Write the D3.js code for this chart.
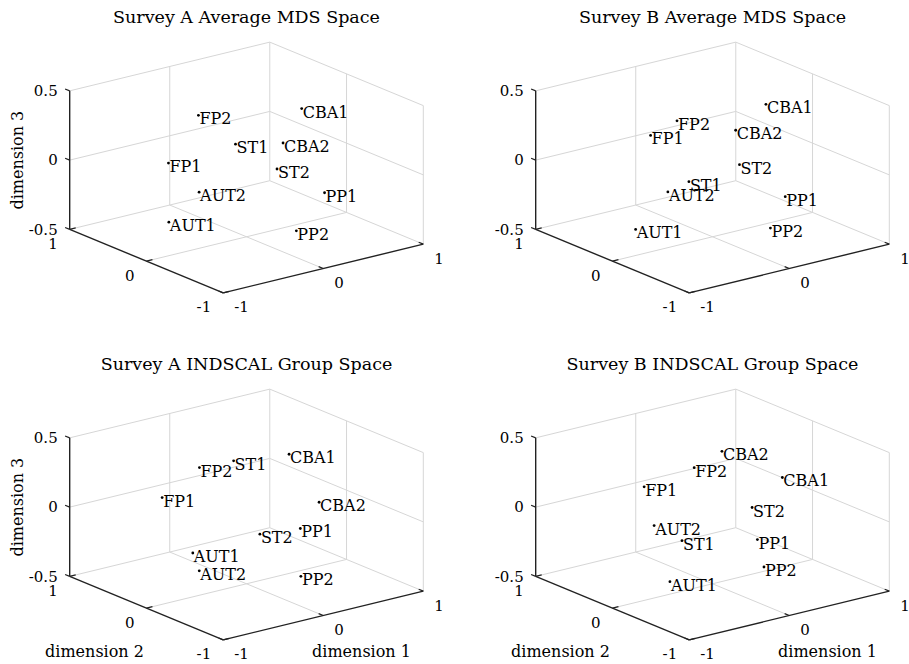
<!DOCTYPE html>
<html>
<head>
<meta charset="utf-8">
<script src="https://cdn.jsdelivr.net/npm/d3@7"></script>
<style>
  body { margin: 0; background: #fff; }
  svg { display: block; }
  text { font-family: "DejaVu Serif", serif; fill: #000; }
</style>
</head>
<body>
<svg id="chart" width="909" height="664"></svg>
<script>
// Stimulus labels (same order in every configuration)
const labels = ["AUT1", "AUT2", "CBA1", "CBA2", "FP1", "FP2", "PP1", "PP2", "ST1", "ST2"];

// Axis ticks
const ticksDim1 = [-1, 0, 1];
const ticksDim2 = [-1, 0, 1];
const ticksDim3 = [-0.5, 0, 0.5];

const titles = [
  "Survey A Average MDS Space",
  "Survey B Average MDS Space",
  "Survey A INDSCAL Group Space",
  "Survey B INDSCAL Group Space"
];

// Survey A, average MDS solution
const aAvgDim1 = [-0.73, -0.42, 0.59, 0.35, -0.55, -0.12, 0.55, 0.13, -0.01, 0.19];
const aAvgDim2 = [0.06, 0.07, 0.05, -0.02, 0.30, 0.47, -0.30, -0.48, 0.13, -0.15];
const aAvgDim3 = [-0.28, -0.12, 0.31, 0.12, 0.06, 0.29, -0.21, -0.37, 0.14, -0.01];

// Survey B, average MDS solution
const bAvgDim1 = [-0.73, -0.40, 0.58, 0.27, -0.45, -0.04, 0.52, 0.18, -0.09, 0.17];
const bAvgDim2 = [0.05, 0.06, 0.06, 0.05, 0.22, 0.41, -0.27, -0.52, 0.19, -0.13];
const bAvgDim3 = [-0.33, -0.12, 0.34, 0.21, 0.26, 0.25, -0.24, -0.35, -0.13, 0.02];

// Survey A, INDSCAL group space
const aIndDim1 = [-0.46, -0.48, 0.51, 0.58, -0.59, -0.11, 0.40, 0.16, 0.04, 0.08];
const aIndDim2 = [0.10, -0.01, 0.11, -0.19, 0.33, 0.47, -0.18, -0.50, 0.22, -0.07];
const aIndDim3 = [-0.22, -0.32, 0.32, 0.03, 0.15, 0.25, -0.13, -0.36, 0.33, -0.14];

// Survey B, INDSCAL group space
const bIndDim1 = [-0.51, -0.43, 0.56, 0.24, -0.43, 0.07, 0.28, 0.20, -0.19, 0.25];
const bIndDim2 = [-0.11, 0.20, -0.18, 0.19, 0.33, 0.33, -0.22, -0.41, 0.15, -0.19];
const bIndDim3 = [-0.37, -0.05, 0.21, 0.37, 0.20, 0.25, -0.18, -0.32, -0.19, 0.05];

const panels = [
  { title: titles[0], d1: aAvgDim1, d2: aAvgDim2, d3: aAvgDim3, col: 0, row: 0 },
  { title: titles[1], d1: bAvgDim1, d2: bAvgDim2, d3: bAvgDim3, col: 1, row: 0 },
  { title: titles[2], d1: aIndDim1, d2: aIndDim2, d3: aIndDim3, col: 0, row: 1 },
  { title: titles[3], d1: bIndDim1, d2: bIndDim2, d3: bIndDim3, col: 1, row: 1 }
];

const svg = d3.select("#chart");

// Camera: azimuth -37.5°, elevation 30° (stretched plot box)
const az = 37.5 * Math.PI / 180, el = 30 * Math.PI / 180;
const ca = Math.cos(az), sa = Math.sin(az), se = Math.sin(el), ce = Math.cos(el);
const kx = 126.1, ky = 80;
const colStep = 466, rowStep = 347;
const cx0 = 246.5, cy0 = 167.5;

// data -> normalised plot box [-1, 1]
const xScale = d3.scaleLinear().domain([-1, 1]).range([-1, 1]);
const yScale = d3.scaleLinear().domain([-1, 1]).range([-1, 1]);
const zScale = d3.scaleLinear().domain([-0.5, 0.5]).range([-1, 1]);

const gridColor = "#d6d6d6";
const axisColor = "#222";
const tickFont = 15, labelFont = 16, titleFont = 17.5;
const fmt = t => String(t).replace("\u2212", "-");

panels.forEach(p => {
  const cx = cx0 + p.col * colStep;
  const cy = cy0 + p.row * rowStep;
  const proj = (x, y, z) => {
    const xn = xScale(x), yn = yScale(y), zn = zScale(z);
    return [cx + kx * (xn * ca - yn * sa), cy - ky * (se * (xn * sa + yn * ca) + ce * zn)];
  };
  const [x0, x1] = xScale.domain();
  const [y0, y1] = yScale.domain();
  const [z0, z1] = zScale.domain();
  const g = svg.append("g");
  const seg = (a, b, color, w) => g.append("line")
    .attr("x1", a[0]).attr("y1", a[1]).attr("x2", b[0]).attr("y2", b[1])
    .attr("stroke", color).attr("stroke-width", w).attr("stroke-linecap", "butt");

  // back walls and floor: box edges
  seg(proj(x0, y1, z1), proj(x1, y1, z1), gridColor, 1);
  seg(proj(x1, y1, z1), proj(x1, y0, z1), gridColor, 1);
  seg(proj(x1, y1, z0), proj(x1, y1, z1), gridColor, 1);
  seg(proj(x1, y0, z0), proj(x1, y0, z1), gridColor, 1);
  seg(proj(x0, y1, z0), proj(x1, y1, z0), gridColor, 1);
  seg(proj(x1, y1, z0), proj(x1, y0, z0), gridColor, 1);

  // grid lines
  ticksDim1.filter(t => t > x0 && t < x1).forEach(t => {
    seg(proj(t, y1, z0), proj(t, y1, z1), gridColor, 1);   // back wall
    seg(proj(t, y0, z0), proj(t, y1, z0), gridColor, 1);   // floor
  });
  ticksDim2.filter(t => t > y0 && t < y1).forEach(t => {
    seg(proj(x1, t, z0), proj(x1, t, z1), gridColor, 1);   // side wall
    seg(proj(x0, t, z0), proj(x1, t, z0), gridColor, 1);   // floor
  });
  ticksDim3.filter(t => t > z0 && t < z1).forEach(t => {
    seg(proj(x0, y1, t), proj(x1, y1, t), gridColor, 1);
    seg(proj(x1, y1, t), proj(x1, y0, t), gridColor, 1);
  });

  // axes
  seg(proj(x0, y0, z0), proj(x1, y0, z0), axisColor, 1.4);
  seg(proj(x0, y0, z0), proj(x0, y1, z0), axisColor, 1.4);
  seg(proj(x0, y1, z0), proj(x0, y1, z1), axisColor, 1.4);

  // tick marks
  const tl = 0.06;
  ticksDim1.forEach(t => seg(proj(t, y0, z0), proj(t, y0 + tl, z0), axisColor, 1.2));
  ticksDim2.forEach(t => seg(proj(x0, t, z0), proj(x0 + tl, t, z0), axisColor, 1.2));
  ticksDim3.forEach(t => seg(proj(x0, y1, t), proj(x0, y1 + tl, t), axisColor, 1.2));

  // tick labels
  ticksDim1.forEach(t => {
    const q = proj(t, y0, z0);
    g.append("text").attr("x", q[0] + 11).attr("y", q[1] + 19.5)
      .attr("font-size", tickFont).text(fmt(t));
  });
  ticksDim2.forEach(t => {
    const q = proj(x0, t, z0);
    g.append("text").attr("x", q[0] - 12).attr("y", q[1] + 19.5)
      .attr("text-anchor", "end").attr("font-size", tickFont).text(fmt(t));
  });
  ticksDim3.forEach(t => {
    const q = proj(x0, y1, t);
    g.append("text").attr("x", q[0] - 12).attr("y", q[1]).attr("dy", "0.35em")
      .attr("text-anchor", "end").attr("font-size", tickFont).text(fmt(t));
  });

  // axis titles (left column: dimension 3, bottom row: dimensions 1 and 2)
  if (p.col === 0) {
    const q = proj(x0, y1, 0);
    g.append("text").attr("transform", `translate(${q[0] - 47},${q[1]}) rotate(-90)`)
      .attr("text-anchor", "middle").attr("font-size", labelFont).text("dimension 3");
  }
  if (p.row === 1) {
    g.append("text").attr("x", cx - 152).attr("y", cy + 142)
      .attr("text-anchor", "middle").attr("font-size", labelFont).text("dimension 2");
    g.append("text").attr("x", cx + 115).attr("y", cy + 142)
      .attr("text-anchor", "middle").attr("font-size", labelFont).text("dimension 1");
  }

  // points and labels
  const pts = labels.map((name, i) => ({ name, q: proj(p.d1[i], p.d2[i], p.d3[i]) }));
  g.selectAll("circle.pt").data(pts).join("circle").attr("class", "pt")
    .attr("cx", d => d.q[0]).attr("cy", d => d.q[1]).attr("r", 1.4).attr("fill", "#000");
  g.selectAll("text.lbl").data(pts).join("text").attr("class", "lbl")
    .attr("x", d => d.q[0] + 1).attr("y", d => d.q[1] + 9)
    .attr("font-size", labelFont).text(d => d.name);

  // title
  g.append("text").attr("x", cx).attr("y", cy - 145)
    .attr("text-anchor", "middle").attr("font-size", titleFont).text(p.title);
});
</script>
</body>
</html>
